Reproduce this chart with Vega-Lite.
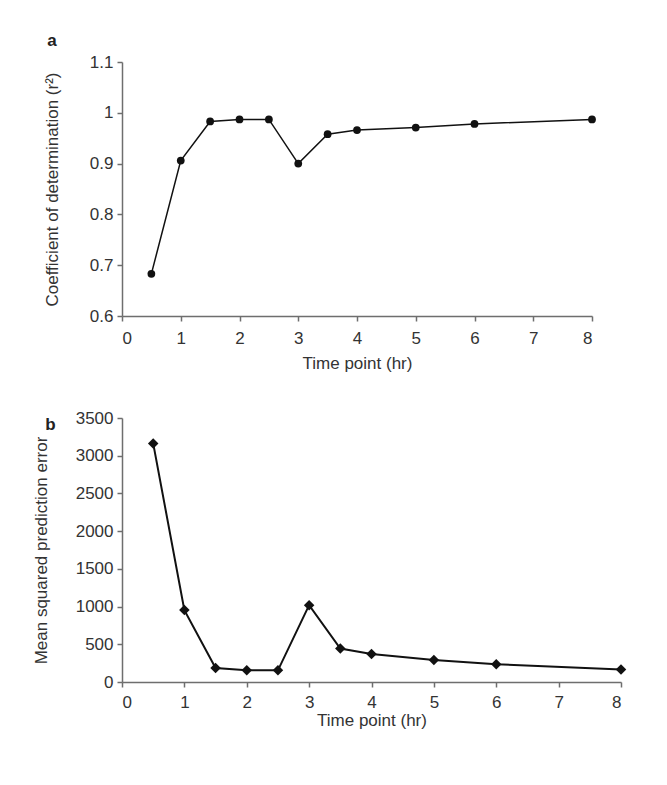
{
  "$schema": "https://vega.github.io/schema/vega-lite/v6.json",
  "background": "white",
  "padding": {"left": 32, "top": 32, "right": 30, "bottom": 40},
  "config": {
    "font": "Liberation Sans",
    "view": {"stroke": null},
    "axis": {
      "grid": false,
      "domainColor": "#6e6e6e",
      "domainWidth": 1.5,
      "tickColor": "#6e6e6e",
      "tickWidth": 1.5,
      "tickSize": 5,
      "labelFont": "Liberation Sans",
      "labelFontSize": 17,
      "labelColor": "#333333",
      "titleFont": "Liberation Sans",
      "titleFontSize": 17,
      "titleFontWeight": "normal",
      "titleColor": "#333333",
      "labelPadding": 4
    },
    "title": {"font": "Liberation Sans", "fontSize": 17, "fontWeight": "bold", "color": "#222222", "anchor": "start"}
  },
  "vconcat": [
    {
      "title": {"text": "a", "offset": 3, "dx": 4},
      "width": 470,
      "height": 254,
      "data": {"values": [
        {"t": 0.5, "r2": 0.683},
        {"t": 1, "r2": 0.906},
        {"t": 1.5, "r2": 0.983},
        {"t": 2, "r2": 0.987},
        {"t": 2.5, "r2": 0.987},
        {"t": 3, "r2": 0.9},
        {"t": 3.5, "r2": 0.958},
        {"t": 4, "r2": 0.966},
        {"t": 5, "r2": 0.971},
        {"t": 6, "r2": 0.978},
        {"t": 8, "r2": 0.987}
      ]},
      "encoding": {
        "x": {"field": "t", "type": "quantitative", "scale": {"domain": [0, 8], "nice": false},
              "axis": {"title": "Time point (hr)", "values": [0,1,2,3,4,5,6,7,8], "labelPadding": 9, "titlePadding": 9}},
        "y": {"field": "r2", "type": "quantitative", "scale": {"domain": [0.6, 1.1], "nice": false, "zero": false},
              "axis": {"title": "Coefficient of determination (r²)", "values": [0.6,0.7,0.8,0.9,1,1.1], "format": "~g", "titlePadding": 28}}
      },
      "layer": [
        {"mark": {"type": "line", "color": "#111111", "strokeWidth": 1.5}},
        {"mark": {"type": "point", "shape": "circle", "filled": true, "color": "#111111", "size": 60, "opacity": 1}}
      ]
    },
    {
      "title": {"text": "b", "offset": 6, "dy": 31, "dx": 13},
      "width": 499,
      "height": 264,
      "data": {"values": [
        {"t": 0.5, "mspe": 3163},
        {"t": 1, "mspe": 953},
        {"t": 1.5, "mspe": 186},
        {"t": 2, "mspe": 155},
        {"t": 2.5, "mspe": 155},
        {"t": 3, "mspe": 1019},
        {"t": 3.5, "mspe": 444},
        {"t": 4, "mspe": 372},
        {"t": 5, "mspe": 292},
        {"t": 6, "mspe": 235},
        {"t": 8, "mspe": 165}
      ]},
      "encoding": {
        "x": {"field": "t", "type": "quantitative", "scale": {"domain": [0, 8], "nice": false},
              "axis": {"title": "Time point (hr)", "values": [0,1,2,3,4,5,6,7,8], "labelPadding": 7, "titlePadding": 2}},
        "y": {"field": "mspe", "type": "quantitative", "scale": {"domain": [0, 3500], "nice": false},
              "axis": {"title": "Mean squared prediction error", "values": [0,500,1000,1500,2000,2500,3000,3500], "format": "d", "titlePadding": 25}}
      },
      "layer": [
        {"mark": {"type": "line", "color": "#111111", "strokeWidth": 2}},
        {"mark": {"type": "point", "shape": "diamond", "filled": true, "color": "#111111", "size": 110, "opacity": 1}}
      ]
    }
  ],
  "spacing": 38
}
